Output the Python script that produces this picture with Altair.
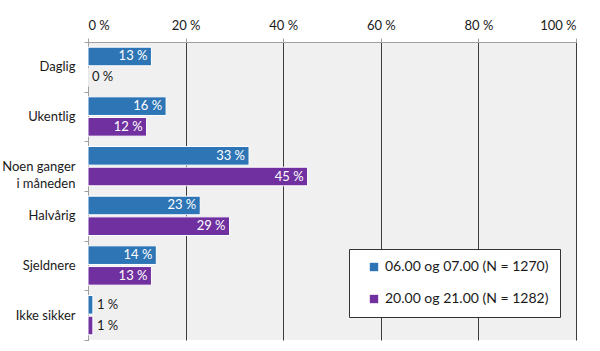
import altair as alt
import pandas as pd

categories = ["Daglig", "Ukentlig", "Noen ganger i måneden", "Halvårig", "Sjeldnere", "Ikke sikker"]
series = ["06.00 og 07.00 (N = 1270)", "20.00 og 21.00 (N = 1282)"]
morning = [13, 16, 33, 23, 14, 1]
evening = [0, 12, 45, 29, 13, 1]
x_ticks = [0, 20, 40, 60, 80, 100]
colors = ["#2E75B6", "#7030A0"]

rows = []
for c, m, e in zip(categories, morning, evening):
    rows.append({"cat": c, "series": series[0], "value": m})
    rows.append({"cat": c, "series": series[1], "value": e})
df = pd.DataFrame(rows)

FONT = "Lato"

y = alt.Y(
    "cat:N",
    sort=categories,
    scale=alt.Scale(paddingInner=0, paddingOuter=0),
    axis=alt.Axis(
        title=None,
        tickBand="extent",
        tickSize=4,
        tickColor="#a0a0a0",
        domainColor="#a0a0a0",
        labelFont=FONT,
        labelFontSize=13,
        labelColor="#1a1a1a",
        labelPadding=9,
        labelLineHeight=17,
        labelExpr="datum.label == 'Noen ganger i måneden' ? ['Noen ganger', 'i måneden'] : datum.label",
    ),
)
yoff = alt.YOffset(
    "series:N", sort=series, scale=alt.Scale(paddingInner=0.1, paddingOuter=0.25)
)
x = alt.X(
    "value:Q",
    scale=alt.Scale(domain=[0, 100]),
    axis=alt.Axis(
        orient="top",
        values=x_ticks,
        labelExpr="datum.value + ' %'",
        title=None,
        grid=True,
        gridColor="#3c3c3c",
        gridWidth=1,
        domainColor="#a0a0a0",
        tickColor="#a0a0a0",
        tickSize=4,
        labelFont=FONT,
        labelFontSize=13,
        labelColor="#1a1a1a",
        labelPadding=6,
    ),
)

base = alt.Chart(df)

bars = base.mark_bar(stroke="white", strokeWidth=1).encode(
    x=x,
    y=y,
    yOffset=yoff,
    color=alt.Color(
        "series:N",
        sort=series,
        scale=alt.Scale(domain=series, range=colors),
        legend=alt.Legend(
            title=None,
            orient="none",
            legendX=261,
            legendY=207,
            fillColor="white",
            strokeColor="#333333",
            padding=11,
            symbolOffset=7,
            symbolType="square",
            symbolSize=70,
            symbolStrokeWidth=0,
            labelFont=FONT,
            labelFontSize=14,
            labelColor="#1a1a1a",
            labelOffset=4,
            rowPadding=18,
            labelLimit=300,
        ),
    ),
)

labels = base.transform_calculate(label="datum.value + ' %'")

inside = labels.transform_filter("datum.value >= 5").mark_text(
    align="right", dx=-4, color="white", font=FONT, fontSize=13, baseline="middle"
).encode(x="value:Q", y=alt.Y("cat:N", sort=categories), yOffset=yoff, text="label:N")

outside = labels.transform_filter("datum.value < 5").mark_text(
    align="left", dx=4, color="#1a1a1a", font=FONT, fontSize=13, baseline="middle"
).encode(x="value:Q", y=alt.Y("cat:N", sort=categories), yOffset=yoff, text="label:N")

chart = (
    alt.layer(bars, inside, outside)
    .properties(
        width=488,
        height=298,
        autosize=alt.AutoSizeParams(type="none"),
        padding={"left": 88, "top": 42, "right": 24, "bottom": 11},
        background="white",
    )
    .configure_view(fill="#f0f0f0", strokeWidth=0)
)

chart.save("out.html", embed_options={"renderer": "svg", "actions": False})
